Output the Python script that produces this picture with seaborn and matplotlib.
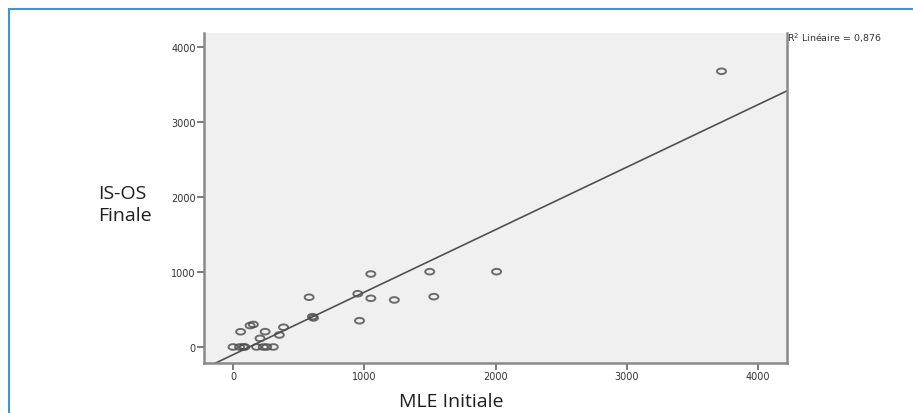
import numpy as np
import pandas as pd
import matplotlib
matplotlib.use("Agg")
import matplotlib.pyplot as plt
from matplotlib.path import Path
from matplotlib.lines import Line2D
import seaborn as sns

# Data
mle_initiale = [0, 50, 79, 90, 180, 230, 257, 307, 58, 130, 155, 245, 206, 353, 385,
                580, 605, 613, 951, 964, 1050, 1050, 1229, 1499, 1530, 2008, 3722]
isos_finale = [0, 0, 0, 0, 0, 0, 0, 0, 203, 285, 300, 204, 115, 160, 263,
               663, 404, 387, 710, 350, 973, 649, 627, 1004, 671, 1004, 3676]
x_ticks = [0, 1000, 2000, 3000, 4000]
y_ticks = [0, 1000, 2000, 3000, 4000]
r2_label = "R$^2$ Linéaire = 0,876"
x_label = "MLE Initiale"
y_label = "IS-OS\nFinale"

df = pd.DataFrame({"MLE": mle_initiale, "ISOS": isos_finale})

sns.set_style("white")
fig = plt.figure(figsize=(9.13, 4.14), dpi=100)
ax = fig.add_axes([204 / 913, 1 - 363.5 / 414, (787 - 204) / 913, (363.5 - 33.5) / 414])
ax.set_facecolor("#f0f0f0")

# elliptical open marker (reference is horizontally stretched)
t = np.linspace(0, 2 * np.pi, 40)
ell = Path(np.column_stack([np.cos(t) * 1.6, np.sin(t)]), closed=True)

ax.set_xlim(-221, 4221)
ax.set_ylim(-207, 4193)
sns.regplot(data=df, x="MLE", y="ISOS", ax=ax, ci=None, truncate=False,
            marker=ell,
            scatter_kws=dict(s=42, facecolors="none", edgecolors="#4a4a4a", linewidths=1.4),
            line_kws=dict(color="#505050", lw=1.2))
ax.set_xlim(-221, 4221)
ax.set_ylim(-207, 4193)

ax.set_xticks(x_ticks)
ax.set_yticks(y_ticks)
ax.tick_params(axis="both", which="both", length=5, width=1.2, color="#666666",
               labelsize=7, labelcolor="#333333", pad=1, bottom=True, left=True)
ax.set_xlabel("")
ax.set_ylabel("")
for side in ["left", "bottom", "right"]:
    ax.spines[side].set_visible(True)
    ax.spines[side].set_color("#8a8a8a")
    ax.spines[side].set_linewidth(1.8)
ax.spines["top"].set_visible(False)

fig.text(787 / 913, 1 - 38 / 414, r2_label, fontsize=6.8, color="#333333",
         ha="left", va="center")
fig.text(98 / 913, 1 - 205 / 414, y_label, fontsize=14, color="#1e1e1e",
         ha="left", va="center", family="Open Sans", linespacing=1.35)
fig.text(451 / 913, 1 - 402 / 414, x_label, fontsize=14, color="#1e1e1e",
         ha="center", va="center", family="Open Sans")

# blue frame (left and top edges)
fig.add_artist(Line2D([8.5 / 913, 8.5 / 913], [0, 1 - 10 / 414], color="#3d95d8", lw=1.5,
                      transform=fig.transFigure))
fig.add_artist(Line2D([8.5 / 913, 1], [1 - 10 / 414, 1 - 10 / 414], color="#3d95d8", lw=1.5,
                      transform=fig.transFigure))

fig.savefig("out.png", dpi=100)
